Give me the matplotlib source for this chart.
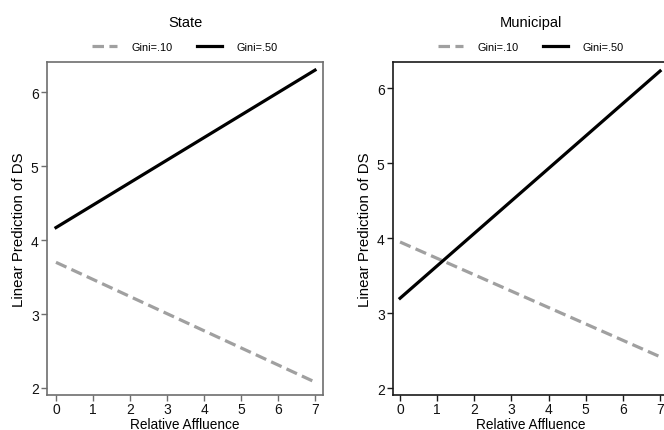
import matplotlib
matplotlib.use("Agg")
import matplotlib.pyplot as plt
import numpy as np

plt.rcParams['font.family'] = ['Liberation Sans', 'DejaVu Sans']

affluence = [0, 7]
state_gini10 = [3.70, 2.08]
state_gini50 = [4.17, 6.30]
muni_gini10 = [3.95, 2.42]
muni_gini50 = [3.20, 6.23]
xticks = [0, 1, 2, 3, 4, 5, 6, 7]
yticks = [2, 3, 4, 5, 6]
titles = ["State", "Municipal"]
labels = ["Gini=.10", "Gini=.50"]

W, H = 664, 431
fig = plt.figure(figsize=(W / 100, H / 100), dpi=100)

def px(x0, y0, x1, y1):
    return [x0 / W, 1 - y1 / H, (x1 - x0) / W, (y1 - y0) / H]

panels = [
    dict(rect=px(47, 63, 323, 396), xlim=(-0.243, 7.216), ylim=(1.905, 6.41),
         g10=state_gini10, g50=state_gini50, title=titles[0], spine='#6e6e6e'),
    dict(rect=px(393, 63, 669, 396), xlim=(-0.19, 7.24), ylim=(1.91, 6.35),
         g10=muni_gini10, g50=muni_gini50, title=titles[1], spine='#1a1a1a'),
]

for p in panels:
    ax = fig.add_axes(p['rect'])
    l1, = ax.plot(affluence, p['g10'], color='#a0a0a0', lw=2.3,
                  linestyle=(0, (3.6, 1.7)), solid_capstyle='butt')
    l2, = ax.plot(affluence, p['g50'], color='black', lw=2.3)
    ax.set_xlim(*p['xlim'])
    ax.set_ylim(*p['ylim'])
    ax.set_xticks(xticks)
    ax.set_yticks(yticks)
    for s in ax.spines.values():
        s.set_color(p['spine'])
        s.set_linewidth(1.2)
    ax.tick_params(direction='out', length=4, width=1, color=p['spine'],
                   labelsize=10, labelcolor='#111111', pad=2)
    ax.tick_params(axis='x', pad=1)
    ax.set_xlabel("Relative Affluence", fontsize=9.8, labelpad=0.5)
    ax.set_ylabel("Linear Prediction of DS", fontsize=10.8, labelpad=3.5)
    ax.set_title(p['title'], fontsize=10.5, pad=26)
    ax.legend([l1, l2], labels, loc='lower center', bbox_to_anchor=(0.5, 1.0),
              ncol=2, frameon=False, fontsize=7.8, handlelength=2.3,
              columnspacing=2.3, handletextpad=1.3)

fig.savefig("out.png", dpi=100)
